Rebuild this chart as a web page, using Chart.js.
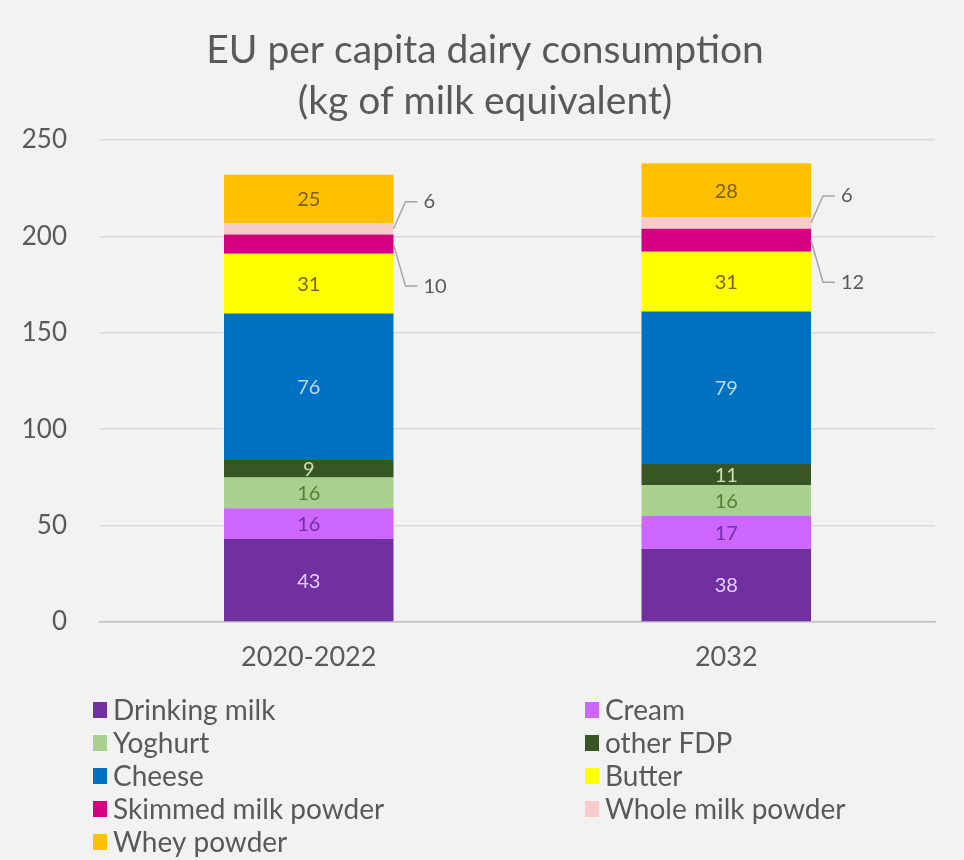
<!DOCTYPE html>
<html>
<head>
<meta charset="utf-8">
<script src="https://cdn.jsdelivr.net/npm/chart.js@4.4.1/dist/chart.umd.min.js"></script>
<style>
  html, body { margin: 0; padding: 0; background: #f2f2f2; }
  #wrap { width: 964px; height: 860px; }
</style>
</head>
<body>
<div id="wrap"><canvas id="dairy-chart" width="964" height="860"></canvas></div>
<script>
// chart data
const periods = ['2020-2022', '2032'];
const drinkingMilk = [43, 38];
const cream = [16, 17];
const yoghurt = [16, 16];
const otherFdp = [9, 11];
const cheese = [76, 79];
const butter = [31, 31];
const skimmedMilkPowder = [10, 12];
const wholeMilkPowder = [6, 6];
const wheyPowder = [25, 28];
const yTicks = [0, 50, 100, 150, 200, 250];

const FONT = 'Lato, "Open Sans", sans-serif';
const TEXT = '#595959';

// name, values, fill colour, label colour, label mode
const series = [
  ['Drinking milk', drinkingMilk, '#7030a0', '#e4ccff', 'in'],
  ['Cream', cream, '#cc66ff', '#7030a0', 'in'],
  ['Yoghurt', yoghurt, '#a9d08e', '#548235', 'in'],
  ['other FDP', otherFdp, '#375623', '#c6e0b4', 'in'],
  ['Cheese', cheese, '#0070c0', '#bdd7ee', 'in'],
  ['Butter', butter, '#ffff00', '#7f6000', 'in'],
  ['Skimmed milk powder', skimmedMilkPowder, '#d5007f', TEXT, 'below'],
  ['Whole milk powder', wholeMilkPowder, '#f8cbcb', TEXT, 'above'],
  ['Whey powder', wheyPowder, '#ffc000', '#7f6000', 'in'],
];

const datasets = series.map(([label, data, color, labelColor, mode]) => ({
  label,
  data,
  backgroundColor: color,
  borderWidth: 0,
  labelColor,
  labelMode: mode,
}));

// title, segment labels, callouts and legend
const decorations = {
  id: 'decorations',
  beforeDraw(chart) {
    const { ctx } = chart;
    ctx.save();
    ctx.fillStyle = '#f2f2f2';
    ctx.fillRect(0, 0, chart.width, chart.height);
    ctx.restore();
  },
  afterDatasetsDraw(chart) {
    const { ctx } = chart;
    ctx.save();
    ctx.font = '20px ' + FONT;
    ctx.textBaseline = 'middle';
    chart.data.datasets.forEach((ds, di) => {
      const meta = chart.getDatasetMeta(di);
      meta.data.forEach((bar, i) => {
        const v = ds.data[i];
        const midY = (bar.y + bar.base) / 2;
        if (ds.labelMode === 'in') {
          ctx.fillStyle = ds.labelColor;
          ctx.textAlign = 'center';
          ctx.fillText(String(v), bar.x, midY + 1);
        } else {
          const xr = bar.x + bar.width / 2;
          const ly = ds.labelMode === 'above' ? midY - 27 : midY + 42;
          ctx.strokeStyle = '#a6a6a6';
          ctx.lineWidth = 1.5;
          ctx.beginPath();
          ctx.moveTo(xr, midY);
          ctx.lineTo(xr + 12, ly);
          ctx.lineTo(xr + 24, ly);
          ctx.stroke();
          ctx.fillStyle = ds.labelColor;
          ctx.textAlign = 'left';
          ctx.fillText(String(v), xr + 30, ly);
        }
      });
    });
    ctx.restore();
  },
  afterDraw(chart) {
    const { ctx } = chart;
    ctx.save();
    ctx.fillStyle = TEXT;
    ctx.textAlign = 'center';
    ctx.textBaseline = 'middle';
    ctx.font = '39px ' + FONT;
    ctx.fillText('EU per capita dairy consumption', 485, 50);
    ctx.fillText('(kg of milk equivalent)', 485, 101);

    // legend in two columns
    ctx.font = '28px ' + FONT;
    ctx.textAlign = 'left';
    const colX = [93, 585];
    chart.data.datasets.forEach((ds, i) => {
      const x = colX[i % 2];
      const y = 710 + Math.floor(i / 2) * 33;
      ctx.fillStyle = ds.backgroundColor;
      ctx.fillRect(x, y - 8, 14, 16);
      ctx.fillStyle = TEXT;
      ctx.fillText(ds.label, x + 20, y + 1);
    });
    ctx.restore();
  },
};

new Chart(document.getElementById('dairy-chart'), {
  type: 'bar',
  data: { labels: periods, datasets },
  options: {
    responsive: false,
    animation: false,
    layout: { padding: { top: 140, left: 10, right: 29, bottom: 178 } },
    plugins: {
      legend: { display: false },
      title: { display: false },
      tooltip: { enabled: false },
    },
    datasets: { bar: { categoryPercentage: 1, barPercentage: 0.406 } },
    scales: {
      x: {
        stacked: true,
        grid: { display: false },
        border: { display: true, color: '#bfbfbf', width: 1.5 },
        ticks: { color: TEXT, font: { family: FONT, size: 27 }, padding: 11 },
        afterFit(scale) { scale.height = 60; },
      },
      y: {
        stacked: true,
        min: 0,
        max: 250,
        afterBuildTicks(scale) { scale.ticks = yTicks.map((v) => ({ value: v })); },
        grid: { color: '#d9d9d9', lineWidth: 1.5, drawTicks: false },
        border: { display: false },
        ticks: { color: TEXT, font: { family: FONT, size: 26 }, padding: 33 },
        afterFit(scale) { scale.width = 90; },
      },
    },
  },
  plugins: [decorations],
});
</script>
</body>
</html>
